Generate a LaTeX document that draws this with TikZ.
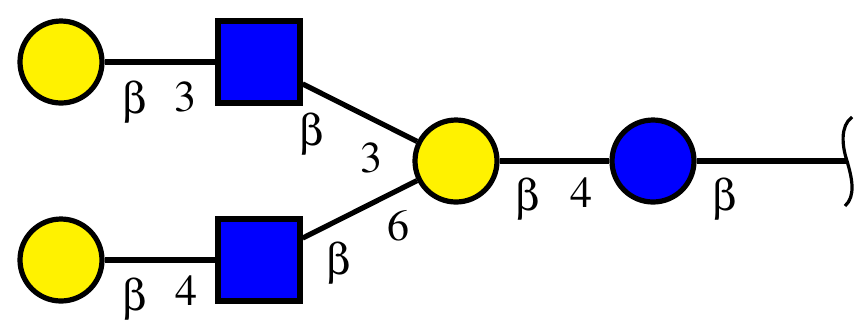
\documentclass[tikz,border=0pt]{standalone}
\usepackage[Symbol]{upgreek}
\begin{document}
\begin{tikzpicture}[x=0.5pt,y=-0.5pt,
  res/.style={draw=black,line width=2.6pt,inner sep=0pt,minimum size=41pt},
  gal/.style={res,circle,fill=yellow},
  glc/.style={res,circle,fill=blue},
  glcnac/.style={res,rectangle,fill=blue,minimum size=41pt},
  bond/.style={line width=2.6pt},
  lab/.style={font=\fontsize{22}{24}\usefont{OT1}{ptm}{m}{n},inner sep=0pt}]
\useasboundingbox (0,0) rectangle (865,334);
\coordinate (end) at (848,161);
\node[gal] (g1) at (61,62) {};
\node[glcnac] (n1) at (259,62) {};
\node[gal] (g2) at (61,260) {};
\node[glcnac] (n2) at (259,260) {};
\node[gal] (g3) at (456,161) {};
\node[glc] (glc) at (653,161) {};
\draw[bond] (g1) -- (n1);
\draw[bond] (g2) -- (n2);
\draw[bond] (n1) -- (g3);
\draw[bond] (n2) -- (g3);
\draw[bond] (g3) -- (glc);
\draw[bond] (glc) -- (end);
\draw[line width=1.6pt] (852,117) .. controls (840,126) and (842,146) .. (847,161) .. controls (852,178) and (856,196) .. (845,206);
% labels
\node[lab] (l1b) at (135,103) {$\upbeta$};
\node[lab] (l13) at (185,97) {3};
\node[lab] (l2b) at (135,300) {$\upbeta$};
\node[lab] (l24) at (186,290) {4};
\node[lab] (l3b) at (312,135) {$\upbeta$};
\node[lab] (l33) at (371,158) {3};
\node[lab] (l4b) at (339,264) {$\upbeta$};
\node[lab] (l46) at (398,226) {6};
\node[lab] (l5b) at (528,200) {$\upbeta$};
\node[lab] (l54) at (581,192) {4};
\node[lab] (l6b) at (725,200) {$\upbeta$};
\end{tikzpicture}
\end{document}
